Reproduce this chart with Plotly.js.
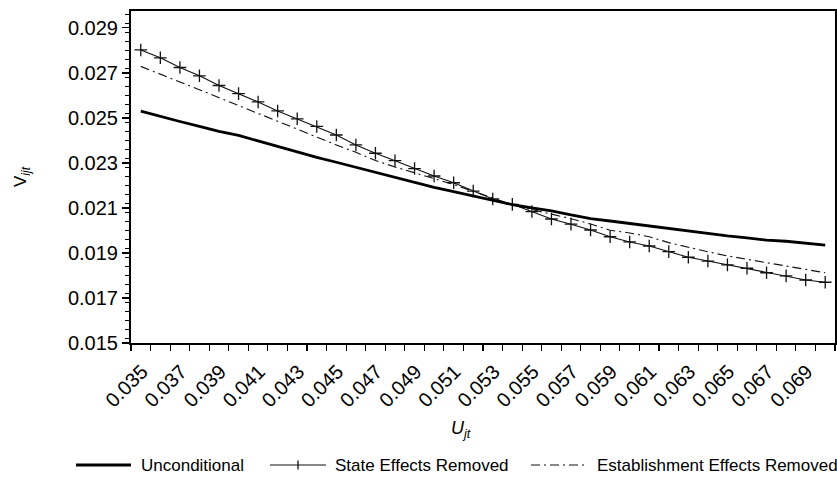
<!DOCTYPE html>
<html>
<head>
<meta charset="utf-8">
<script src="https://cdn.plot.ly/plotly-3.0.1.min.js"></script>
<style>html,body{margin:0;padding:0;background:#fff;}#chart{width:837px;height:481px;}</style>
</head>
<body>
<div id="chart"></div>
<script>
// Unemployment rate U_jt (x) and wage-curve values V_ijt (y)
var uRate = [0.0355,0.0365,0.0375,0.0385,0.0395,0.0405,0.0415,0.0425,0.0435,0.0445,
             0.0455,0.0465,0.0475,0.0485,0.0495,0.0505,0.0515,0.0525,0.0535,0.0545,
             0.0555,0.0565,0.0575,0.0585,0.0595,0.0605,0.0615,0.0625,0.0635,0.0645,
             0.0655,0.0665,0.0675,0.0685,0.0695,0.0705];

var unconditional = [0.02530,0.02506,0.02484,0.02462,0.02440,0.02422,0.02397,0.02372,0.02348,0.02325,
                     0.02303,0.02280,0.02259,0.02235,0.02211,0.02191,0.02172,0.02152,0.02133,0.02115,
                     0.02100,0.02087,0.02069,0.02053,0.02042,0.02031,0.02020,0.02007,0.01996,0.01986,
                     0.01976,0.01967,0.01957,0.01952,0.01944,0.01935];

var stateRemoved = [0.02802,0.02767,0.02724,0.02687,0.02644,0.02608,0.02571,0.02531,0.02496,0.02462,
                    0.02424,0.02380,0.02343,0.02310,0.02275,0.02242,0.02212,0.02175,0.02140,0.02116,
                    0.02084,0.02051,0.02028,0.02002,0.01972,0.01949,0.01931,0.01906,0.01881,0.01864,
                    0.01847,0.01832,0.01812,0.01798,0.01780,0.01770];

var estabRemoved = [0.02729,0.02696,0.02660,0.02625,0.02590,0.02555,0.02520,0.02485,0.02450,0.02412,
                    0.02380,0.02347,0.02311,0.02282,0.02256,0.02231,0.02204,0.02174,0.02144,0.02114,
                    0.02093,0.02073,0.02052,0.02029,0.02001,0.01989,0.01972,0.01946,0.01924,0.01905,
                    0.01887,0.01872,0.01858,0.01843,0.01828,0.01812];

var seriesNames = ["Unconditional", "State Effects Removed", "Establishment Effects Removed"];
var xTitle = "<i>U</i><sub><i>jt</i></sub>";
var yTitle = "V<sub><i>ijt</i></sub>";

var FONT = "Liberation Sans, Arial, sans-serif";

var traces = [
  {x: uRate, y: estabRemoved, name: seriesNames[2], mode: "lines",
   line: {color: "#111", width: 1.1, dash: "9px,4px,2px,4px"}, showlegend: false},
  {x: uRate, y: stateRemoved, name: seriesNames[1], mode: "lines+markers",
   line: {color: "#111", width: 1.1},
   marker: {symbol: "cross-thin", size: 9, color: "#111", line: {color: "#111", width: 1.3}},
   showlegend: false},
  {x: uRate, y: unconditional, name: seriesNames[0], mode: "lines",
   line: {color: "#000", width: 2.8}, showlegend: false}
];

// manual legend layout (pixel -> paper helpers)
var L = 131, R = 835, T = 11, B = 343;
function px(x){ return (x - L) / (R - L); }
function py(y){ return (B - y) / (B - T); }
var legY = 465;

var shapes = [
  {type: "line", xref: "paper", yref: "paper", x0: px(76), x1: px(131), y0: py(legY), y1: py(legY),
   line: {color: "#000", width: 2.8}},
  {type: "line", xref: "paper", yref: "paper", x0: px(270), x1: px(326), y0: py(legY), y1: py(legY),
   line: {color: "#111", width: 1.1}},
  {type: "line", xref: "paper", yref: "paper", x0: px(298), x1: px(298), y0: py(legY - 4.5), y1: py(legY + 4.5),
   line: {color: "#111", width: 1.3}},
  {type: "line", xref: "paper", yref: "paper", x0: px(531), x1: px(586), y0: py(legY), y1: py(legY),
   line: {color: "#111", width: 1.1, dash: "9px,4px,2px,4px"}}
];

var annotations = [
  {text: seriesNames[0], xref: "paper", yref: "paper", x: px(139), y: py(legY), xanchor: "left", yanchor: "middle",
   showarrow: false, font: {family: FONT, size: 17, color: "#000"}},
  {text: seriesNames[1], xref: "paper", yref: "paper", x: px(333), y: py(legY), xanchor: "left", yanchor: "middle",
   showarrow: false, font: {family: FONT, size: 17, color: "#000"}},
  {text: seriesNames[2], xref: "paper", yref: "paper", x: px(595), y: py(legY), xanchor: "left", yanchor: "middle",
   showarrow: false, font: {family: FONT, size: 17, color: "#000"}},
  {text: xTitle, xref: "paper", yref: "paper", x: px(461), y: py(429), xanchor: "center", yanchor: "middle",
   showarrow: false, font: {family: FONT, size: 18, color: "#000"}}
];

var layout = {
  width: 837, height: 481,
  margin: {l: L, r: 837 - R, t: T, b: 481 - B, pad: 0},
  paper_bgcolor: "#fff", plot_bgcolor: "#fff",
  font: {family: FONT, color: "#000"},
  showlegend: false,
  xaxis: {
    range: [0.035, 0.071], tick0: 0.035, dtick: 0.002, tickformat: ".3f",
    tickangle: -45, ticks: "outside", ticklen: 6, tickwidth: 1.2, tickcolor: "#000",
    ticklabelshift: 11, ticklabelstandoff: 1,
    tickfont: {family: FONT, size: 20, color: "#000"},
    minor: {dtick: 0.001, ticks: "outside", ticklen: 6, tickwidth: 1.2, tickcolor: "#000", showgrid: false},
    showgrid: false, zeroline: false, showline: true, linecolor: "#000", linewidth: 2, mirror: true,
    automargin: false
  },
  yaxis: {
    range: [0.015, 0.02975], tick0: 0.015, dtick: 0.002, tickformat: ".3f",
    ticks: "outside", ticklen: 7, tickwidth: 1.2, tickcolor: "#000",
    tickfont: {family: FONT, size: 20, color: "#000"},
    minor: {dtick: 0.0004, ticks: "outside", ticklen: 4, tickwidth: 1, tickcolor: "#000", showgrid: false},
    showgrid: false, zeroline: false, showline: true, linecolor: "#000", linewidth: 2, mirror: true,
    title: {text: yTitle, font: {family: FONT, size: 17, color: "#000"}, standoff: 37},
    automargin: false
  },
  shapes: shapes,
  annotations: annotations
};

Plotly.newPlot("chart", traces, layout, {staticPlot: true, displayModeBar: false});
</script>
</body>
</html>
